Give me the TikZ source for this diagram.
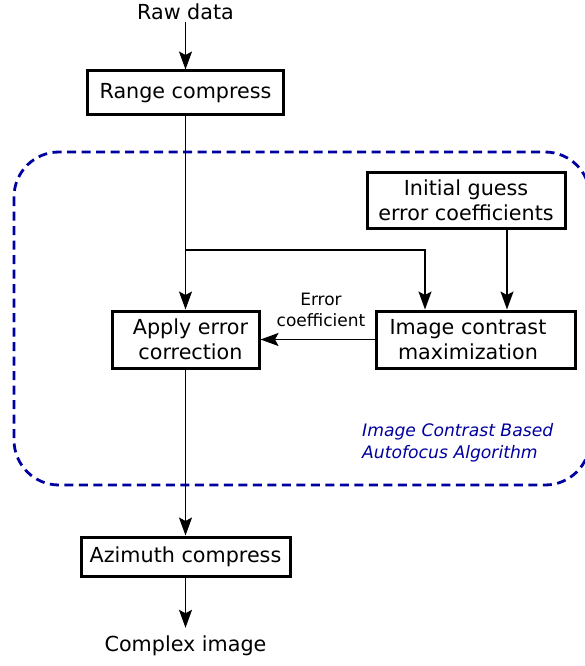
\documentclass[tikz,border=0pt]{standalone}
\usepackage{fontspec}
\setmainfont{DejaVu Sans}
\usetikzlibrary{arrows.meta}
\definecolor{loopblue}{RGB}{0,0,160}
\tikzset{
  stepbox/.style={draw, line width=3pt, inner sep=0pt, align=center,
    font=\fontsize{20.7}{24.8}\selectfont},
  plain/.style={inner sep=0pt, align=center, font=\fontsize{20.7}{24.8}\selectfont},
  flow/.style={line width=1.4pt, -{Stealth[length=18pt,width=13pt,inset=3.5pt]}},
  link/.style={line width=1.4pt},
}
\begin{document}
\begin{tikzpicture}[x=1pt,y=-1pt]
\useasboundingbox (0,0) rectangle (585,666);
\clip (0,0) rectangle (585,666);

% autofocus loop enclosure
\draw[loopblue, line width=2.8pt, dash pattern=on 9pt off 5.5pt, rounded corners=45pt]
  (14,152) rectangle (590,485);
\node[loopblue, anchor=west, align=left, inner sep=0pt,
      font=\fontsize{17.2}{21.5}\selectfont\itshape] (lbl) at (362,443)
  {Image Contrast Based\\Autofocus Algorithm};

% processing steps
\node[plain] (raw) at (185.5,12) {Raw data};
\node[stepbox, minimum width=196pt, minimum height=44pt] (range) at (185.5,93) {Range compress};
\node[stepbox, minimum width=198pt, minimum height=56pt] (init) at (466,200) {Initial guess\\error coefficients};
\node[stepbox, minimum width=147pt, minimum height=57pt] (apply) at (185.5,339.5)
  {\hspace*{10pt}Apply error\\\hspace*{10pt}correction};
\node[stepbox, minimum width=199pt, minimum height=57pt] (icm) at (475.5,339.5)
  {Image contrast\hspace*{15pt}\\maximization\hspace*{15pt}};
\node[stepbox, minimum width=209pt, minimum height=39pt] (azi) at (185.5,556.5) {Azimuth compress};
\node[plain] (out) at (185.5,646) {Complex image};
\node[inner sep=0pt, align=center, font=\fontsize{17}{21}\selectfont] (errlbl) at (321,309.5) {Error\\coefficient};

% helper points
\coordinate (j) at (185.5,250);
\coordinate (xa) at (425,0);
\coordinate (xb) at (507,0);

% connectors
\draw[flow] ([yshift=-2pt]raw.south) -- (range.north);
\draw[link] (range.south) -- (j);
\draw[flow] (j) -- (apply.north);
\draw[flow] (j) -| (icm.north -| xa);
\draw[flow] (init.south -| xb) -- (icm.north -| xb);
\draw[flow] (icm.west) -- (apply.east);
\draw[flow] (apply.south) -- (azi.north);
\draw[flow] (azi.south) -- ([yshift=8pt]out.north);
\end{tikzpicture}
\end{document}
